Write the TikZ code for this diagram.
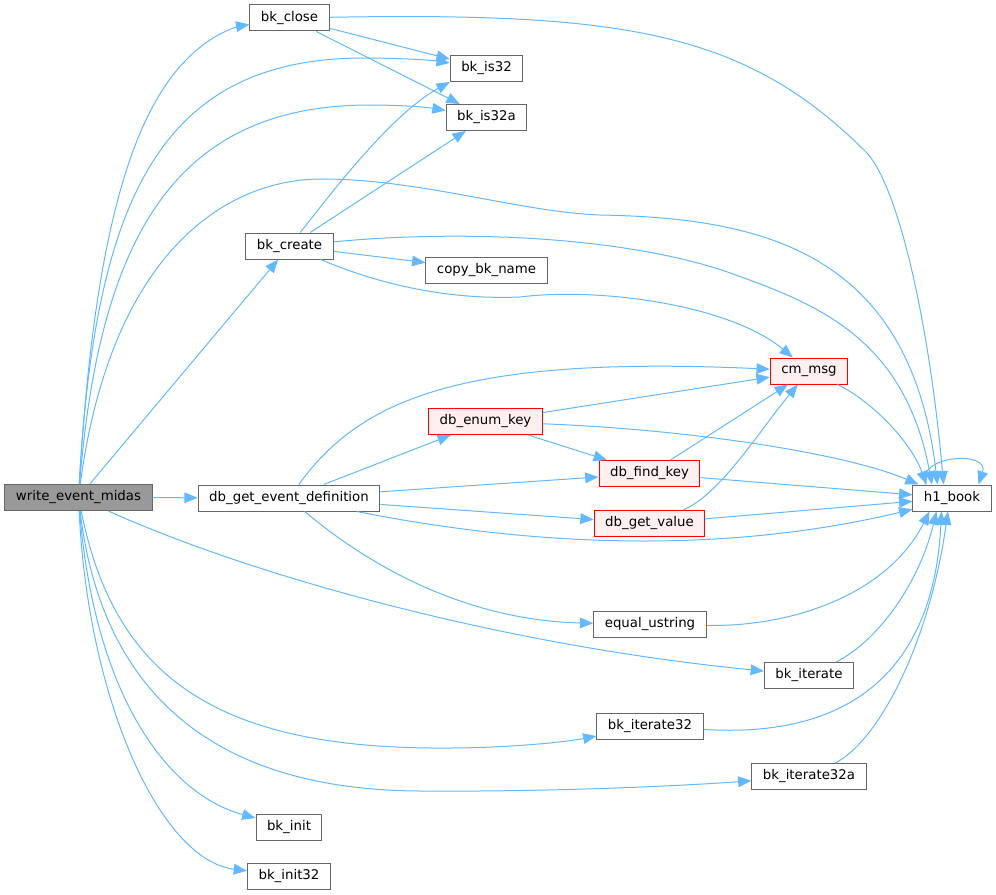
\documentclass[tikz,border=0pt]{standalone}
\usepackage{fontspec}
\setmainfont{DejaVu Sans}
\usepackage{tikz}
\usetikzlibrary{arrows.meta}
\definecolor{edgeblue}{HTML}{63B8FF}
\definecolor{nodegray}{HTML}{666666}
\definecolor{rootgray}{HTML}{999999}
\definecolor{truncfill}{HTML}{FFF0F0}

\begin{document}
\begin{tikzpicture}[x=0.75pt,y=-0.75pt]
\tikzset{func/.style=
	{draw=nodegray,fill=white,line width=0.75pt,minimum height=19.5pt,inner xsep=8.25pt,inner ysep=0pt},
	rootfunc/.style=
	{func,fill=rootgray},
	truncfunc/.style=
	{func,draw=red,fill=truncfill},
	call/.style=
	{draw=edgeblue,line width=0.75pt,-{Triangle[length=10pt,width=8pt]}}}
\useasboundingbox (0,0) rectangle (996,895);
\node[func] (bkclose) at (289.5,18) {bk\_close};
\node[func] (bkis32) at (486.5,68.5) {bk\_is32};
\node[func] (bkis32a) at (486.5,117.5) {bk\_is32a};
\node[func] (bkcreate) at (289.5,246) {bk\_create};
\node[func] (copyname) at (486.5,270) {copy\_bk\_name};
\node[truncfunc] (cmmsg) at (809,371) {cm\_msg};
\node[truncfunc] (dbenum) at (485.5,421.5) {db\_enum\_key};
\node[truncfunc] (dbfind) at (649.5,473.5) {db\_find\_key};
\node[rootfunc] (wem) at (78.5,497.5) {write\_event\_midas};
\node[func] (dbevdef) at (289,498) {db\_get\_event\_definition};
\node[func] (hbook) at (952,498) {h1\_book};
\node[truncfunc] (dbgetval) at (649.5,523.5) {db\_get\_value};
\node[func] (equstr) at (650,624.5) {equal\_ustring};
\node[func] (bkiter) at (809,675.5) {bk\_iterate};
\node[func] (bkiter32) at (650,726) {bk\_iterate32};
\node[func] (bkiter32a) at (809,776.5) {bk\_iterate32a};
\node[func] (bkinit) at (289,827) {bk\_init};
\node[func] (bkinit32) at (289,876) {bk\_init32};
\draw[call] (wem) -- (dbevdef);
\draw[call] (wem) -- (bkcreate);
\draw[call] (wem) .. controls (97,180) and (150,80) .. (210,40) .. controls (225,30) and (240,26) .. (bkclose);
\draw[call] (wem) .. controls (95,200) and (160,60) .. (360,58) .. controls (400,58) and (430,60) .. (bkis32);
\draw[call] (wem) .. controls (100,230) and (180,105) .. (370,105) .. controls (400,105) and (425,107) .. (bkis32a);
\draw[call] (wem) .. controls (110,260) and (220,179) .. (322,179) .. controls (420,179) and (520,212) .. (600,215) .. controls (760,218) and (910,250) .. (hbook.137);
\draw[call] (wem) .. controls (250,575) and (500,645) .. (bkiter);
\draw[call] (wem) .. controls (115,680) and (220,750) .. (450,748) .. controls (500,748) and (560,743) .. (bkiter32);
\draw[call] (wem) .. controls (100,680) and (200,790) .. (420,791) .. controls (550,792) and (680,786) .. (bkiter32a);
\draw[call] (wem) .. controls (95,700) and (170,795) .. (bkinit);
\draw[call] (wem) .. controls (88,700) and (160,860) .. (bkinit32);
\draw[call] (bkclose) -- (bkis32);
\draw[call] (bkclose) -- (bkis32a);
\draw[call] (bkclose) .. controls (629,12) and (747,33) .. (867,153) .. controls (900,190) and (930,330) .. (hbook.122);
\draw[call] (bkcreate) .. controls (330,195) and (390,115) .. (bkis32.south west);
\draw[call] (bkcreate) -- (bkis32a);
\draw[call] (bkcreate) -- (copyname);
\draw[call] (bkcreate) .. controls (480,228) and (640,240) .. (733,274) .. controls (820,305) and (905,340) .. (hbook.146);
\draw[call] (bkcreate) .. controls (380,285) and (450,300) .. (520,297) .. controls (600,287) and (730,305) .. (cmmsg);
\draw[call] (dbevdef) .. controls (360,400) and (460,355) .. (cmmsg);
\draw[call] (dbevdef) -- (dbenum);
\draw[call] (dbevdef) -- (dbfind);
\draw[call] (dbevdef) -- (dbgetval);
\draw[call] (dbevdef) .. controls (500,540) and (700,560) .. (hbook.196);
\draw[call] (dbevdef) .. controls (350,550) and (450,620) .. (equstr);
\draw[call] (dbenum) -- (cmmsg);
\draw[call] (dbenum) -- (dbfind);
\draw[call] (dbenum) .. controls (700,430) and (850,455) .. (hbook.158);
\draw[call] (dbfind) -- (cmmsg);
\draw[call] (dbfind) -- (hbook);
\draw[call] (dbgetval) .. controls (720,495) and (760,430) .. (cmmsg);
\draw[call] (dbgetval) -- (hbook);
\draw[call] (cmmsg) .. controls (870,400) and (910,440) .. (hbook.152);
\draw[call] (hbook.153) .. controls (915,455) and (990,450) .. (hbook.27);
\draw[call] (equstr) .. controls (800,627) and (890,590) .. (hbook.211);
\draw[call] (bkiter) .. controls (880,640) and (920,580) .. (hbook.221);
\draw[call] (bkiter32) .. controls (870,740) and (935,650) .. (hbook.232);
\draw[call] (bkiter32a) .. controls (880,740) and (930,640) .. (hbook.253);
\end{tikzpicture}
\end{document}
